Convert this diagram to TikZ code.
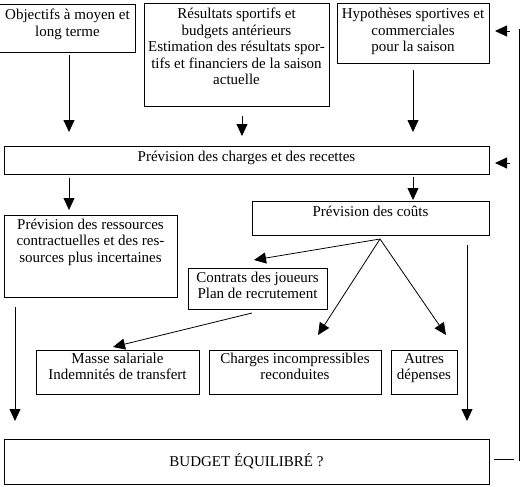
\documentclass[tikz,border=0pt]{standalone}
\usepackage{fontspec}
\setmainfont{Liberation Serif}
\usetikzlibrary{arrows.meta}
\newcommand\fstrut{\rule{0pt}{13.5pt}}
\begin{document}
\begin{tikzpicture}[x=1pt,y=-1pt,
  box/.style={draw, line width=0.9pt, inner sep=0pt, outer sep=0pt},
  txt/.style={inner sep=0pt, align=center, anchor=north, font=\fontsize{15pt}{16.5pt}\selectfont},
  arr/.style={line width=0.8pt, -{Triangle[length=12pt,width=11pt]}},
  ln/.style={line width=0.8pt}]
\useasboundingbox (0,0) rectangle (525,487);
% boxes
\node[box, minimum width=137pt, minimum height=48pt] (obj) at (66.5,28) {};
\node[box, minimum width=185pt, minimum height=103pt] (res) at (236.5,54.5) {};
\node[box, minimum width=152pt, minimum height=60pt] (hyp) at (413,33) {};
\node[box, minimum width=485pt, minimum height=28pt] (chg) at (246.5,160) {};
\node[box, minimum width=237pt, minimum height=34pt] (cout) at (370.5,218) {};
\node[box, minimum width=173pt, minimum height=82pt] (ress) at (90.5,256) {};
\node[box, minimum width=139pt, minimum height=41pt] (ctr) at (257.5,288.5) {};
\node[box, minimum width=163pt, minimum height=44pt] (mas) at (117.5,372) {};
\node[box, minimum width=172pt, minimum height=44pt] (inc) at (295,372) {};
\node[box, minimum width=66pt, minimum height=44pt] (aut) at (424,372) {};
\node[box, minimum width=485pt, minimum height=45pt] (bud) at (246.5,461.5) {};
% texts
\node[txt] (obj-t) at ([xshift=1pt,yshift=-2pt]obj.north) {\fstrut Objectifs à moyen et\\long terme};
\node[txt] (res-t) at ([yshift=-2pt]res.north) {\fstrut Résultats sportifs et\\budgets antérieurs\\Estimation des résultats spor-\\tifs et financiers de la saison\\actuelle};
\node[txt] (hyp-t) at ([yshift=-2pt]hyp.north) {\fstrut Hypothèses sportives et\\commerciales\\pour la saison};
\node[txt] (chg-t) at ([yshift=-1.5pt]chg.north) {\fstrut Prévision des charges et des recettes};
\node[txt] (cout-t) at ([yshift=-1.5pt]cout.north) {\fstrut Prévision des coûts};
\node[txt] (ress-t) at ([yshift=-0.5pt]ress.north) {\fstrut Prévision des ressources\\contractuelles et des res-\\sources plus incertaines};
\node[txt] (ctr-t) at ([yshift=-0.5pt]ctr.north) {\fstrut Contrats des joueurs\\Plan de recrutement};
\node[txt] (mas-t) at ([yshift=0.5pt]mas.north) {\fstrut Masse salariale\\Indemnités de transfert};
\node[txt] (inc-t) at ([yshift=0.5pt]inc.north) {\fstrut Charges incompressibles\\reconduites};
\node[txt] (aut-t) at ([yshift=0.5pt]aut.north) {\fstrut Autres\\dépenses};
\node[txt, anchor=center] (bud-t) at (bud.center) {BUDGET ÉQUILIBRÉ ?};
% connector points
\coordinate (a1s) at (69,55);   \coordinate (a1e) at (69,132);
\coordinate (a2s) at (242,116); \coordinate (a2e) at (242,136);
\coordinate (a3s) at (413,70);  \coordinate (a3e) at (413,132);
\coordinate (a4s) at (69,178);  \coordinate (a4e) at (69,210);
\coordinate (a5s) at (413,177); \coordinate (a5e) at (413,200);
\coordinate (fan) at (380,239);
\coordinate (f1) at (254,260);
\coordinate (f2) at (318,335);
\coordinate (f3) at (446,335);
\coordinate (a6s) at (252,313); \coordinate (a6e) at (113,347);
\coordinate (a7s) at (15,307);  \coordinate (a7e) at (15,421);
\coordinate (a8s) at (467,245); \coordinate (a8e) at (467,421);
\coordinate (fbt) at (519,29);  \coordinate (fbb) at (519,461);
\coordinate (fh1) at (494,459); \coordinate (fh2) at (514,459);
\coordinate (b1s) at (510,31);  \coordinate (b1e) at (495,31);
\coordinate (b2s) at (510,163); \coordinate (b2e) at (495,163);
% connectors
\draw[arr] (a1s) -- (a1e);
\draw[arr] (a2s) -- (a2e);
\draw[arr] (a3s) -- (a3e);
\draw[arr] (a4s) -- (a4e);
\draw[arr] (a5s) -- (a5e);
\draw[arr] (fan) -- (f1);
\draw[arr] (fan) -- (f2);
\draw[arr] (fan) -- (f3);
\draw[arr] (a6s) -- (a6e);
\draw[arr] (a7s) -- (a7e);
\draw[arr] (a8s) -- (a8e);
\draw[ln] (fbb) -- (fbt);
\draw[ln] (fh1) -- (fh2);
\draw[arr] (b1s) -- (b1e);
\draw[arr] (b2s) -- (b2e);
\end{tikzpicture}
\end{document}
